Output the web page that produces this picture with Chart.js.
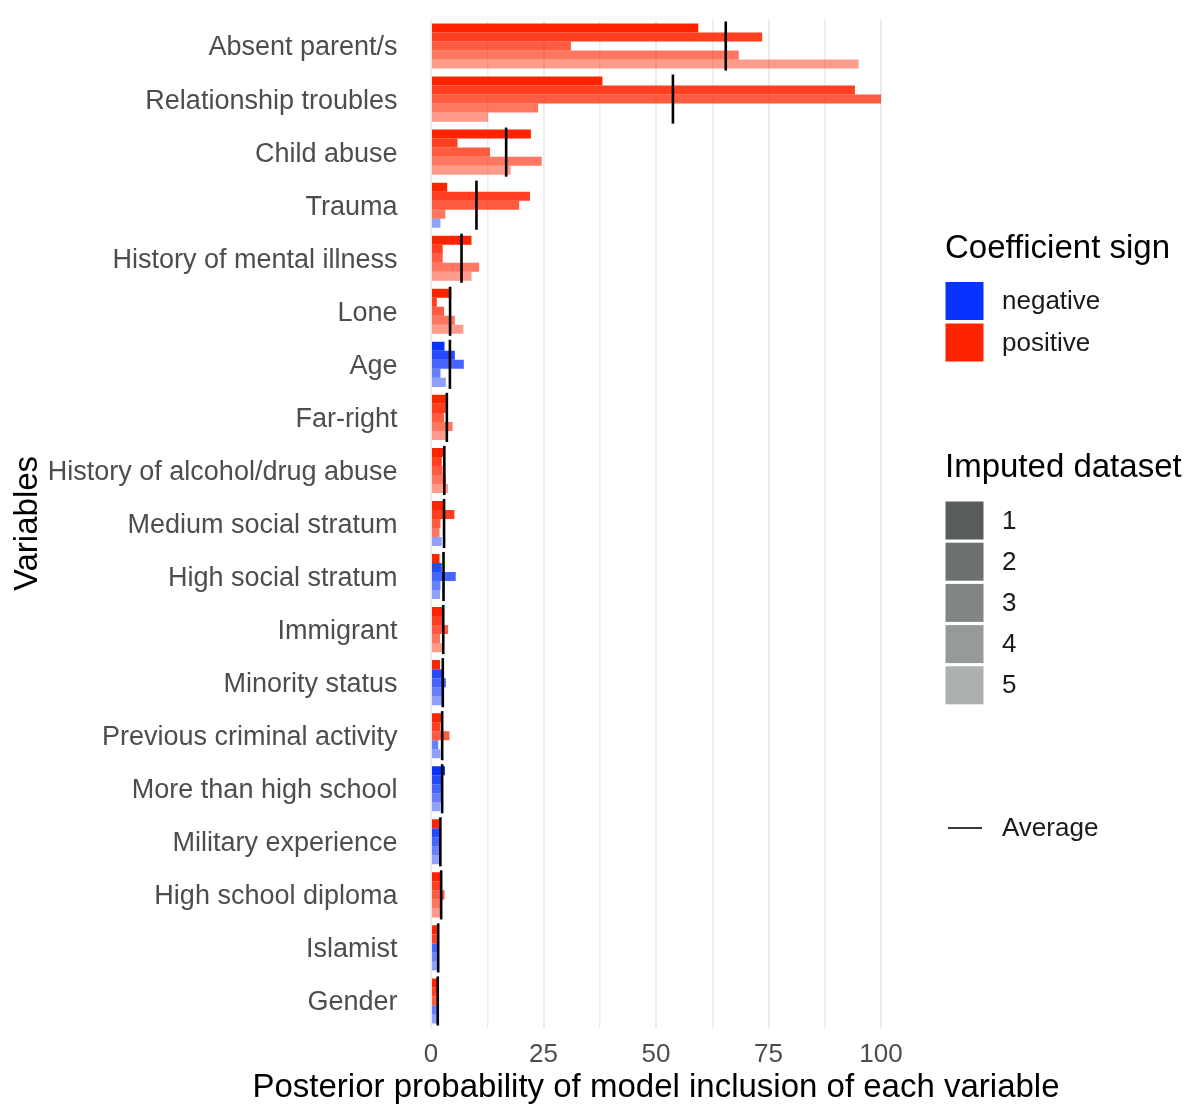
<!DOCTYPE html>
<html>
<head>
<meta charset="utf-8">
<script src="https://cdn.jsdelivr.net/npm/chart.js@4"></script>
<style>
  body { margin: 0; background: #fff; }
  #wrap { width: 1195px; height: 1106px; position: relative; }
</style>
</head>
<body>
<div id="wrap"><canvas id="chart"></canvas></div>
<script>
const variables = ['Absent parent/s', 'Relationship troubles', 'Child abuse', 'Trauma', 'History of mental illness',
  'Lone', 'Age', 'Far-right', 'History of alcohol/drug abuse', 'Medium social stratum', 'High social stratum',
  'Immigrant', 'Minority status', 'Previous criminal activity', 'More than high school', 'Military experience',
  'High school diploma', 'Islamist', 'Gender'];

// posterior inclusion probability (%) per imputed dataset
const imputed1 = [59.4, 38.1, 22.2, 3.6, 9.0, 4.5, 3.0, 3.3, 2.7, 2.9, 1.9, 2.6, 2.0, 2.5, 3.1, 2.0, 2.1, 1.6, 1.5];
const imputed2 = [73.6, 94.2, 5.9, 22.0, 2.6, 1.3, 5.3, 3.3, 2.4, 5.2, 2.4, 2.6, 2.6, 2.1, 2.4, 2.1, 2.1, 1.6, 1.5];
const imputed3 = [31.1, 100, 13.1, 19.6, 2.6, 2.9, 7.3, 2.9, 2.6, 2.1, 5.5, 3.8, 3.3, 4.1, 2.4, 2.1, 3.0, 1.6, 1.5];
const imputed4 = [68.4, 23.8, 24.6, 3.2, 10.7, 5.3, 2.1, 4.8, 3.3, 1.9, 2.1, 2.0, 2.6, 1.6, 2.4, 2.1, 2.1, 1.6, 1.5];
const imputed5 = [95.0, 12.7, 17.7, 2.1, 9.0, 7.2, 3.3, 3.3, 3.8, 2.4, 2.0, 2.6, 2.6, 2.1, 2.1, 2.1, 2.0, 1.6, 1.5];

// coefficient sign: P = positive, N = negative
const sign1 = ['P','P','P','P','P','P','N','P','P','P','P','P','P','P','N','P','P','P','P'];
const sign2 = ['P','P','P','P','P','P','N','P','P','P','N','P','N','P','N','N','P','P','P'];
const sign3 = ['P','P','P','P','P','P','N','P','P','P','N','P','N','P','N','N','P','N','P'];
const sign4 = ['P','P','P','P','P','P','N','P','P','P','N','P','N','N','N','N','P','N','N'];
const sign5 = ['P','P','P','N','P','P','N','P','P','N','N','P','N','N','N','N','P','N','N'];

const xTicks = [0, 25, 50, 75, 100];

const allValues = [imputed1, imputed2, imputed3, imputed4, imputed5];
const allSigns = [sign1, sign2, sign3, sign4, sign5];
const alphas = [1, 0.88, 0.75, 0.62, 0.46];
const greys = ['#595c5d', '#6d7070', '#828585', '#979a9a', '#adb0b0'];

const FONT = '"Liberation Sans", Arial, Helvetica, sans-serif';

function signColor(s, a) {
  return s === 'N' ? `rgba(8,50,255,${a})` : `rgba(255,36,0,${a})`;
}

const datasets = allValues.map((vals, i) => ({
  label: 'Imputed ' + (i + 1),
  data: vals,
  backgroundColor: allSigns[i].map(s => signColor(s, alphas[i])),
  borderWidth: 0,
  categoryPercentage: 0.85,
  barPercentage: 1
}));

// black vertical line at the mean of the five datasets, plus legends and x title
const extras = {
  id: 'extras',
  afterDatasetsDraw(chart) {
    const ctx = chart.ctx;
    const x = chart.scales.x, y = chart.scales.y;
    const band = (y.getPixelForValue(1) - y.getPixelForValue(0)) * 0.85;
    ctx.save();
    ctx.strokeStyle = '#000';
    ctx.lineWidth = 2.6;
    variables.forEach((v, i) => {
      const mean = allValues.reduce((s, arr) => s + arr[i], 0) / allValues.length;
      const px = x.getPixelForValue(mean);
      const cy = y.getPixelForValue(i);
      ctx.beginPath();
      ctx.moveTo(px, cy - band / 2 - 2);
      ctx.lineTo(px, cy + band / 2 + 2);
      ctx.stroke();
    });
    ctx.restore();
  },
  afterDraw(chart) {
    const ctx = chart.ctx;
    const x = chart.scales.x;
    ctx.save();
    ctx.textBaseline = 'middle';
    ctx.fillStyle = '#000';
    ctx.font = '33px ' + FONT;
    ctx.textAlign = 'center';
    ctx.fillText('Posterior probability of model inclusion of each variable', (x.left + x.right) / 2, 1088);

    ctx.textAlign = 'left';
    ctx.fillText('Coefficient sign', 945, 249);
    ctx.fillText('Imputed dataset', 945, 468);

    ctx.font = '26px ' + FONT;
    const keys = [['negative', 'rgb(8,50,255)'], ['positive', 'rgb(255,36,0)']];
    keys.forEach((k, i) => {
      const top = 282 + i * 41.5;
      ctx.fillStyle = k[1];
      ctx.fillRect(945.5, top, 38, 38);
      ctx.fillStyle = '#1a1a1a';
      ctx.fillText(k[0], 1002, top + 20);
    });
    greys.forEach((g, i) => {
      const top = 501.5 + i * 41.2;
      ctx.fillStyle = g;
      ctx.fillRect(945.5, top, 38, 38);
      ctx.fillStyle = '#1a1a1a';
      ctx.fillText(String(i + 1), 1002, top + 20);
    });

    ctx.strokeStyle = '#3a3a3a';
    ctx.lineWidth = 2;
    ctx.beginPath();
    ctx.moveTo(948, 828);
    ctx.lineTo(982, 828);
    ctx.stroke();
    ctx.fillStyle = '#1a1a1a';
    ctx.fillText('Average', 1002, 829);
    ctx.restore();
  }
};

new Chart(document.getElementById('chart'), {
  type: 'bar',
  data: { labels: variables, datasets: datasets },
  options: {
    indexAxis: 'y',
    responsive: true,
    maintainAspectRatio: false,
    animation: false,
    layout: { padding: { top: 19.5, right: 291.5, left: 0, bottom: 0 } },
    plugins: { legend: { display: false }, tooltip: { enabled: false } },
    scales: {
      x: {
        type: 'linear',
        min: -5,
        max: 105,
        afterBuildTicks: (scale) => {
          const t = [];
          for (let v = 0; v <= 100; v += 12.5) t.push({ value: v });
          scale.ticks = t;
        },
        afterFit: (scale) => {
          scale.height = 78.5;
          scale.paddingLeft = 0;
          scale.paddingRight = 0;
        },
        border: { display: false },
        grid: {
          drawTicks: false,
          color: '#ebebeb',
          lineWidth: (c) => (c.tick && xTicks.includes(c.tick.value)) ? 2 : 1.4
        },
        ticks: {
          autoSkip: false,
          maxRotation: 0,
          padding: 12,
          color: '#4d4d4d',
          font: { family: FONT, size: 26 },
          callback: (v) => xTicks.includes(v) ? String(v) : ''
        }
      },
      y: {
        type: 'category',
        offset: true,
        afterFit: (scale) => {
          scale.width = 408.5;
          scale.paddingTop = 0;
          scale.paddingBottom = 0;
        },
        border: { display: false },
        grid: { display: false, drawTicks: false },
        ticks: {
          padding: 11,
          labelOffset: 2,
          color: '#4d4d4d',
          font: { family: FONT, size: 27 }
        },
        title: {
          display: true,
          text: 'Variables',
          color: '#000',
          font: { family: FONT, size: 33 },
          padding: { top: 8, bottom: 0 }
        }
      }
    }
  },
  plugins: [extras]
});
</script>
</body>
</html>
